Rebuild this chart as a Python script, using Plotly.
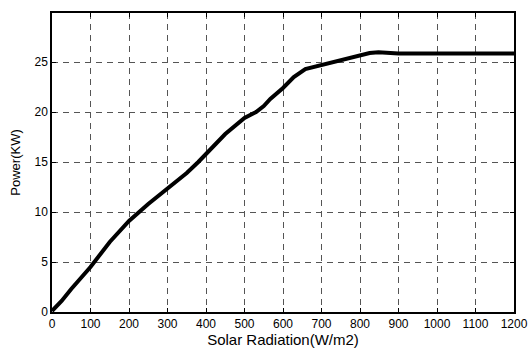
import plotly.graph_objects as go

radiation = [0, 25, 50, 100, 150, 170, 200, 250, 300, 350, 380, 400, 450, 500, 530, 550, 567, 600, 628, 658, 700, 767, 800, 825, 848, 875, 900, 1000, 1100, 1200]
power = [0.1, 1.1, 2.3, 4.5, 7.0, 7.9, 9.1, 10.8, 12.4, 13.9, 15.0, 15.8, 17.8, 19.4, 20.0, 20.6, 21.3, 22.4, 23.5, 24.3, 24.7, 25.3, 25.7, 25.9, 25.97, 25.88, 25.85, 25.85, 25.85, 25.85]
x_ticks = list(range(0, 1201, 100))
y_ticks = [0, 5, 10, 15, 20, 25]

fig = go.Figure()
fig.add_trace(go.Scatter(x=radiation, y=power, mode="lines",
                         line=dict(color="black", width=4),
                         showlegend=False))

axis_common = dict(
    showline=True, linecolor="black", linewidth=1.5, mirror="ticks",
    ticks="inside", ticklen=4, tickcolor="black",
    showgrid=True, gridcolor="#555555", gridwidth=1, griddash="6px,5px",
    zeroline=False, automargin=False,
    tickfont=dict(family="Liberation Sans, Arial", size=12, color="black"),
)

fig.update_layout(
    width=528, height=350,
    margin=dict(l=52, r=14, t=13, b=38),
    paper_bgcolor="white", plot_bgcolor="white",
    font=dict(family="Liberation Sans, Arial", color="black"),
    xaxis=dict(range=[0, 1200], tickvals=x_ticks,
               title=dict(text="Solar Radiation(W/m2)", font=dict(size=15), standoff=0),
               **axis_common),
    yaxis=dict(range=[0, 29.9], tickvals=y_ticks,
               title=dict(text="Power(KW)", font=dict(size=13), standoff=11),
               **axis_common),
)

fig.write_html("out.html", config={"displayModeBar": False},
               post_script="document.body.style.margin='0px';")
